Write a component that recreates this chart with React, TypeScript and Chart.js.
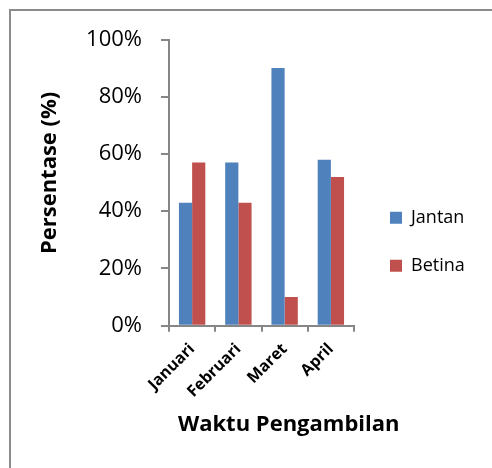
import React, { useEffect, useRef } from 'react';
import { Chart, registerables } from 'chart.js';

Chart.register(...registerables);

const categories = ['Januari', 'Februari', 'Maret', 'April'];
const seriesNames = ['Jantan', 'Betina'];
const jantan = [43, 57, 90, 58];
const betina = [57, 43, 10, 52];
const yTicks = [0, 20, 40, 60, 80, 100];
const xTitle = 'Waktu Pengambilan';
const yTitle = 'Persentase (%)';

const FONT = "'Open Sans', 'DejaVu Sans', sans-serif";
const AXIS = '#868686';

export default function App() {
  const ref = useRef<HTMLCanvasElement>(null);

  useEffect(() => {
    const canvas = ref.current;
    if (!canvas) return;

    const frame = {
      id: 'frame',
      beforeDraw(chart: any) {
        const ctx = chart.ctx;
        ctx.save();
        ctx.strokeStyle = '#8c8c8c';
        ctx.lineWidth = 2;
        ctx.beginPath();
        ctx.moveTo(10, 470);
        ctx.lineTo(10, 10);
        ctx.lineTo(494, 10);
        ctx.stroke();
        ctx.restore();
      },
    };

    const titles = {
      id: 'axisTitles',
      afterDraw(chart: any) {
        const ctx = chart.ctx;
        ctx.save();
        ctx.fillStyle = '#000';
        ctx.font = `bold 22px ${FONT}`;
        ctx.textAlign = 'center';
        ctx.textBaseline = 'alphabetic';
        ctx.fillText(xTitle, 288.7, 431);
        ctx.translate(55.5, 172.9);
        ctx.rotate(-Math.PI / 2);
        ctx.fillText(yTitle, 0, 0);
        ctx.restore();
      },
    };

    const legendShift = {
      id: 'legendShift',
      afterLayout(chart: any) {
        const l = chart.legend;
        if (l) {
          l.left += 6;
          l.width = 130;
          l.right = l.left + l.width;
        }
      },
    };

    const chart = new Chart(canvas, {
      type: 'bar',
      data: {
        labels: categories,
        datasets: [
          { label: seriesNames[0], data: jantan, backgroundColor: '#4F81BD' },
          { label: seriesNames[1], data: betina, backgroundColor: '#C0504D' },
        ],
      },
      options: {
        animation: false,
        responsive: false,
        layout: { padding: { left: 0, top: 39.5, right: 38, bottom: 24 } },
        datasets: { bar: { categoryPercentage: 0.57, barPercentage: 1 } },
        scales: {
          x: {
            grid: {
              display: true,
              drawOnChartArea: false,
              drawTicks: true,
              tickLength: 6,
              tickColor: AXIS,
              lineWidth: 2,
              offset: true,
            },
            border: { display: true, color: AXIS, width: 2 },
            ticks: {
              minRotation: 45,
              maxRotation: 45,
              autoSkip: false,
              color: '#000',
              padding: 8,
              font: { family: FONT, size: 16, weight: 'bold' },
            },
            afterFit(s: any) {
              s.height = 118.3;
            },
          },
          y: {
            min: 0,
            max: 100,
            afterBuildTicks(s: any) {
              s.ticks = yTicks.map((v) => ({ value: v }));
            },
            grid: {
              display: true,
              drawOnChartArea: false,
              drawTicks: true,
              tickLength: 8,
              tickColor: AXIS,
              lineWidth: 2,
            },
            border: { display: true, color: AXIS, width: 2 },
            ticks: {
              color: '#000',
              padding: 19,
              font: { family: FONT, size: 22 },
              callback: (v: any) => `${v}%`,
            },
            afterFit(s: any) {
              s.width = 169;
            },
          },
        },
        plugins: {
          legend: {
            position: 'right',
            maxWidth: 100,
            labels: {
              boxWidth: 12,
              boxHeight: 12,
              padding: 30,
              color: '#000',
              font: { family: FONT, size: 18 },
            },
          },
          tooltip: { enabled: false },
        },
      },
      plugins: [frame, titles, legendShift],
    } as any);

    return () => chart.destroy();
  }, []);

  return (
    <div style={{ position: 'absolute', left: 0, top: 0, width: 492, height: 468 }}>
      <canvas ref={ref} width={492} height={468} />
    </div>
  );
}
